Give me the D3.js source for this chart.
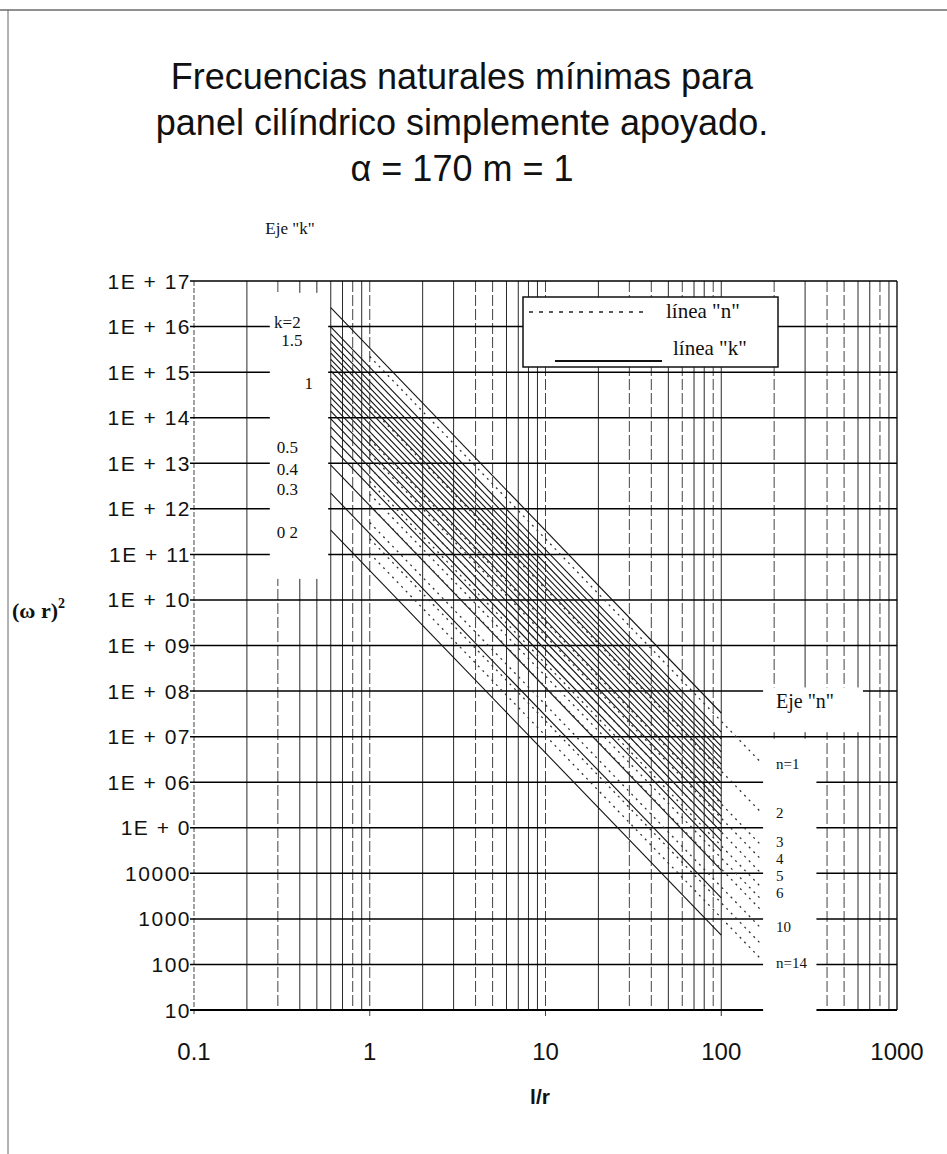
<!DOCTYPE html>
<html>
<head>
<meta charset="utf-8">
<script src="https://cdn.jsdelivr.net/npm/d3@7"></script>
<style>
  body { margin: 0; background: #fff; }
</style>
</head>
<body>
<div id="chart"></div>
<script>
// ---- data ----
const titleLines = ["Frecuencias naturales mínimas para", "panel cilíndrico simplemente apoyado.", "α = 170  m = 1"];

const xTickValues = [0.1, 1, 10, 100, 1000];
const xTickLabels = ["0.1", "1", "10", "100", "1000"];
const yTickValues = [1e1, 1e2, 1e3, 1e4, 1e5, 1e6, 1e7, 1e8, 1e9, 1e10, 1e11, 1e12, 1e13, 1e14, 1e15, 1e16, 1e17];
const yTickLabels = ["10", "100", "1000", "10000", "1E + 0", "1E + 06", "1E + 07", "1E + 08", "1E + 09", "1E + 10",
  "1E + 11", "1E + 12", "1E + 13", "1E + 14", "1E + 15", "1E + 16", "1E + 17"];

// solid "k" lines: (ωr)² at l/r = 0.6 and at l/r = 100
const kLineX = [0.6, 100];
const kLineStart = [2.6e16, 9.8e15, 6.9e15, 4.8e15, 3.5e15, 2.6e15, 1.9e15, 1.44e15, 1.06e15, 7.4e14, 5.5e14,
  3.8e14, 2.8e14, 2.0e14, 1.4e14, 9.4e13, 6.2e13, 4.0e13, 2.4e13, 9.1e12, 2.2e12, 3.4e11];
const kLineEnd = [3.3e7, 1.26e7, 8.9e6, 6.2e6, 4.6e6, 3.4e6, 2.5e6, 1.9e6, 1.37e6, 9.6e5, 7.1e5,
  5.0e5, 3.6e5, 2.6e5, 1.8e5, 1.2e5, 8.1e4, 5.2e4, 3.1e4, 1.18e4, 2.9e3, 4.4e2];

// dotted "n" lines: (ωr)² at l/r = 1 and at l/r = 170
const nLineX = [1, 170];
const nValues = [1, 2, 3, 4, 5, 6, 7, 8, 10, 12, 14];
const nLineStart = [2.2e15, 1.74e14, 3.3e13, 1.6e13, 8.0e12, 4.0e12, 2.1e12, 1.2e12, 5.0e11, 2.2e11, 1.05e11];
const nLineEnd = [2.6e6, 2.1e5, 4.0e4, 1.95e4, 9.7e3, 4.8e3, 2.6e3, 1.5e3, 6.0e2, 2.7e2, 1.26e2];

// "Eje k" scale labels
const kAxisLabels = ["k=2", "1.5", "1", "0.5", "0.4", "0.3", "0 2"];
const kAxisX = [0.34, 0.36, 0.45, 0.34, 0.34, 0.34, 0.34];
const kAxisY = [1.26e16, 5.1e15, 5.8e14, 2.3e13, 7.4e12, 2.7e12, 3.1e11];

// "Eje n" scale labels
const nAxisLabels = ["n=1", "2", "3", "4", "5", "6", "10", "n=14"];
const nAxisY = [2.6e6, 2.1e5, 4.9e4, 2.06e4, 8.7e3, 3.7e3, 6.6e2, 1.1e2];
const nAxisX = 205;

// vertical grid lines drawn dashed in the original
const dashedTicks = [0.3, 0.8, 1, 4, 5, 10, 30, 40, 60, 90, 200, 400, 500, 800];

// ---- drawing ----
const W = 947, H = 1154;
const sans = "'Liberation Sans', Arial, sans-serif";
const serif = "'Liberation Serif', 'Times New Roman', serif";

const svg = d3.select("#chart").append("svg")
  .attr("width", W).attr("height", H)
  .style("background", "#fff");

const x = d3.scaleLog().domain([0.1, 1000]).range([194, 897]);
const y = d3.scaleLog().domain([10, 1e17]).range([1010, 281]);

// page edges of the scan
svg.append("line").attr("x1", 0).attr("x2", W).attr("y1", 10).attr("y2", 10)
  .attr("stroke", "#222").attr("stroke-width", 1.2);
svg.append("line").attr("x1", 8).attr("x2", 8).attr("y1", 10).attr("y2", H)
  .attr("stroke", "#666").attr("stroke-width", 1);

// title
svg.append("g").selectAll("text").data(titleLines).enter().append("text")
  .attr("x", 462).attr("y", (d, i) => 89 + i * 46)
  .attr("text-anchor", "middle")
  .style("font-family", sans).style("font-size", "36px").attr("fill", "#111")
  .text(d => d);

// vertical grid
const xGrid = [];
for (let e = -1; e <= 2; e++) for (let m = 1; m <= 9; m++) xGrid.push(+(m * Math.pow(10, e)).toPrecision(2));
xGrid.push(1000);
const majors = [0.1, 1, 10, 100];

const grid = svg.append("g");
grid.selectAll(".vg").data(xGrid).enter().append("line")
  .attr("class", "vg")
  .attr("x1", d => x(d)).attr("x2", d => x(d))
  .attr("y1", y(1e17))
  .attr("y2", d => majors.includes(d) ? y(10) + 6 : y(10))
  .attr("stroke", d => d === 1000 ? "#111" : (dashedTicks.includes(d) || d === 0.1 ? "#444" : "#2a2a2a"))
  .attr("stroke-width", d => d === 1000 ? 1.4 : 1)
  .attr("stroke-dasharray", d => (d === 0.1 ? "5,2" : dashedTicks.includes(d) ? "11,3" : null));

// horizontal grid
grid.selectAll(".hg").data(yTickValues).enter().append("line")
  .attr("class", "hg")
  .attr("x1", x(0.1) - 4).attr("x2", x(1000))
  .attr("y1", d => y(d)).attr("y2", d => y(d))
  .attr("stroke", "#000")
  .attr("stroke-width", d => (d === 10 ? 1.8 : 1.5));

// blank label columns of the original
const masks = [
  { x0: 0.27, x1: 0.58, y0: 5.5e16, y1: 2.9e10 },
  { x0: 173, x1: 640, y0: 1.2e8, y1: 1.25e7 },
  { x0: 173, x1: 348, y0: 9.0e6, y1: 8 }
];
svg.append("g").selectAll("rect").data(masks).enter().append("rect")
  .attr("x", d => x(d.x0)).attr("width", d => x(d.x1) - x(d.x0))
  .attr("y", d => y(d.y0)).attr("height", d => y(d.y1) - y(d.y0))
  .attr("fill", "#fff");

const line = d3.line().x(d => x(d[0])).y(d => y(d[1]));

// k lines (solid)
svg.append("g").selectAll("path").data(kLineStart.map((v, i) => [[kLineX[0], v], [kLineX[1], kLineEnd[i]]]))
  .enter().append("path")
  .attr("d", line).attr("fill", "none")
  .attr("stroke", "#111").attr("stroke-width", 1.1);

// n lines (dotted)
svg.append("g").selectAll("path").data(nValues.map((n, i) => [[nLineX[0], nLineStart[i]], [nLineX[1], nLineEnd[i]]]))
  .enter().append("path")
  .attr("d", line).attr("fill", "none")
  .attr("stroke", "#333").attr("stroke-width", 1.3)
  .attr("stroke-dasharray", "2,4.5");

// y tick labels
svg.append("g").selectAll("text").data(yTickValues).enter().append("text")
  .attr("x", x(0.1) - 3).attr("y", d => y(d)).attr("dy", "0.36em")
  .attr("text-anchor", "end")
  .style("font-family", sans).style("font-size", "21px").style("letter-spacing", "1.5px")
  .attr("fill", "#111")
  .text((d, i) => yTickLabels[i]);

// x tick labels
svg.append("g").selectAll("text").data(xTickValues).enter().append("text")
  .attr("x", d => x(d)).attr("y", 1060)
  .attr("text-anchor", "middle")
  .style("font-family", sans).style("font-size", "24px")
  .attr("fill", "#111")
  .text((d, i) => xTickLabels[i]);

// axis titles
svg.append("text").attr("x", 540).attr("y", 1104).attr("text-anchor", "middle")
  .style("font-family", sans).style("font-size", "21px").style("font-weight", "bold")
  .attr("fill", "#111").text("l/r");

const yt = svg.append("text").attr("x", 12).attr("y", 618)
  .style("font-family", serif).style("font-size", "22px").style("font-weight", "bold").attr("fill", "#111");
yt.append("tspan").text("(ω r)");
yt.append("tspan").attr("dy", -10).style("font-size", "14px").text("2");

// Eje "k"
svg.append("text").attr("x", 290).attr("y", 234).attr("text-anchor", "middle")
  .style("font-family", serif).style("font-size", "17px").attr("fill", "#111")
  .text('Eje "k"');

svg.append("g").selectAll("text").data(kAxisLabels).enter().append("text")
  .attr("x", (d, i) => x(kAxisX[i])).attr("y", (d, i) => y(kAxisY[i])).attr("dy", "0.35em")
  .attr("text-anchor", "middle")
  .style("font-family", serif).style("font-size", "17px").attr("fill", "#111")
  .text(d => d);

// Eje "n"
svg.append("text").attr("x", x(nAxisX)).attr("y", y(4.2e7))
  .style("font-family", serif).style("font-size", "20px").attr("fill", "#111")
  .text('Eje "n"');

svg.append("g").selectAll("text").data(nAxisLabels).enter().append("text")
  .attr("x", x(nAxisX)).attr("y", (d, i) => y(nAxisY[i])).attr("dy", "0.35em")
  .style("font-family", serif).style("font-size", "15px").attr("fill", "#111")
  .text(d => d);

// legend
const lg = svg.append("g").attr("transform", "translate(523,297)");
lg.append("rect").attr("width", 255).attr("height", 70)
  .attr("fill", "#fff").attr("stroke", "#111").attr("stroke-width", 1.5);
lg.append("line").attr("x1", 6).attr("x2", 125).attr("y1", 15).attr("y2", 15)
  .attr("stroke", "#222").attr("stroke-width", 1.3).attr("stroke-dasharray", "4,6");
lg.append("text").attr("x", 143).attr("y", 21)
  .style("font-family", serif).style("font-size", "21px").attr("fill", "#111").text('línea "n"');
lg.append("line").attr("x1", 32).attr("x2", 139).attr("y1", 64).attr("y2", 64)
  .attr("stroke", "#111").attr("stroke-width", 2);
lg.append("text").attr("x", 150).attr("y", 58)
  .style("font-family", serif).style("font-size", "21px").attr("fill", "#111").text('línea "k"');
</script>
</body>
</html>
